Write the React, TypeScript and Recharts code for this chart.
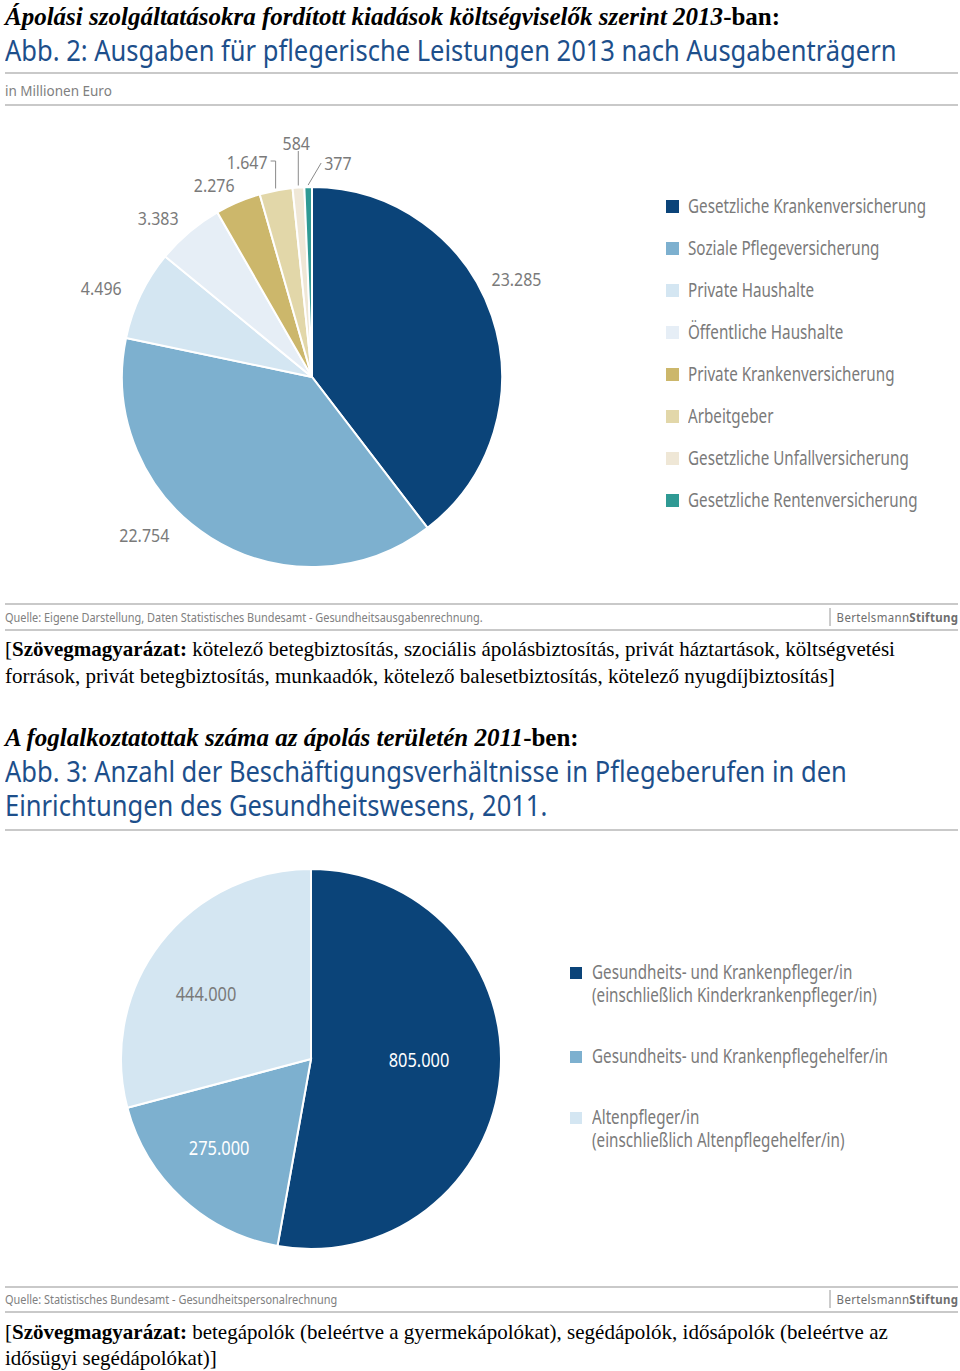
import { PieChart, Pie, Cell, Legend } from "recharts";

document.body.style.margin = "0";

const payers = [
  "Gesetzliche Krankenversicherung",
  "Soziale Pflegeversicherung",
  "Private Haushalte",
  "Öffentliche Haushalte",
  "Private Krankenversicherung",
  "Arbeitgeber",
  "Gesetzliche Unfallversicherung",
  "Gesetzliche Rentenversicherung",
];
const spending = [23285, 22754, 4496, 3383, 2276, 1647, 584, 377];
const payerColors = ["#0b4479", "#7db0cf", "#d4e6f2", "#e6eef6", "#ccb76b", "#e2d7a9", "#efe7d6", "#2f9a94"];

const professions = [
  "Gesundheits- und Krankenpfleger/in\n(einschließlich Kinderkrankenpfleger/in)",
  "Gesundheits- und Krankenpflegehelfer/in",
  "Altenpfleger/in\n(einschließlich Altenpflegehelfer/in)",
];
const employees = [805000, 275000, 444000];
const professionColors = ["#0b4479", "#7db0cf", "#d4e6f2"];
const professionLabelColors = ["#ffffff", "#ffffff", "#7a7a7a"];

const spendingData = payers.map((name, i) => ({ name, value: spending[i], fill: payerColors[i] }));
const employeeData = professions.map((name, i) => ({ name, value: employees[i], fill: professionColors[i] }));

// the original uses a condensed sans; no condensed face is installed, so text is squeezed horizontally
const SANS = '"Noto Sans", Roboto, sans-serif';
const GREY = "#7a7a7a";
const BLUE = "#1d4f8b";
const RAD = Math.PI / 180;

const fmt = (v: number) => String(v).replace(/\B(?=(\d{3})+(?!\d))/g, ".");
const polar = (cx: number, cy: number, r: number, deg: number) => ({
  x: cx + r * Math.cos(-deg * RAD),
  y: cy + r * Math.sin(-deg * RAD),
});

const Sq = ({ k, origin = "0 0", children }: { k: number; origin?: string; children: any }) => (
  <span style={{ display: "inline-block", transform: `scaleX(${k})`, transformOrigin: origin, whiteSpace: "nowrap" }}>
    {children}
  </span>
);

const SvgText = ({ x, y, anchor, size, fill, k, children }: any) => (
  <g transform={`translate(${x},${y}) scale(${k},1)`}>
    <text x={0} y={0} textAnchor={anchor} dominantBaseline="central" style={{ fontFamily: SANS, fontSize: size, fill }}>
      {children}
    </text>
  </g>
);

// label placement for the outside labels: angle nudge (deg) and gap beyond the rim
const labelNudge = [7, -14.6, 2.6, 3.6, 4];
const labelGap = [37, 40, 39, 32, 26];

const SpendLabel = (props: any) => {
  const { cx, cy, midAngle, outerRadius, percent, index, value } = props;
  const t = { size: 19, fill: GREY, k: 0.84 };
  if (percent >= 0.03) {
    const p = polar(cx, cy, outerRadius + (labelGap[index] ?? 34), midAngle + (labelNudge[index] ?? 0));
    return <SvgText x={p.x} y={p.y} anchor="middle" {...t}>{fmt(value)}</SvgText>;
  }
  const e = polar(cx, cy, outerRadius + 2, midAngle);
  const top = cy - outerRadius - 26;
  if (index === spending.length - 1) {
    return (
      <g>
        <path d={`M${e.x},${e.y}L${e.x + 13},${top + 2}`} stroke="#8a8a8a" fill="none" />
        <SvgText x={e.x + 16} y={top + 1} anchor="start" {...t}>{fmt(value)}</SvgText>
      </g>
    );
  }
  if (percent > 0.02) {
    return (
      <g>
        <path d={`M${e.x},${e.y}V${top}H${e.x - 5}`} stroke="#8a8a8a" fill="none" />
        <SvgText x={e.x - 8} y={top} anchor="end" {...t}>{fmt(value)}</SvgText>
      </g>
    );
  }
  return (
    <g>
      <path d={`M${e.x},${e.y}V${top - 10}`} stroke="#8a8a8a" fill="none" />
      <SvgText x={e.x - 2} y={top - 19} anchor="middle" {...t}>{fmt(value)}</SvgText>
    </g>
  );
};

const employeeNudge = [5, -3.7, 5.4];
const employeeRadius = [108, 127, 124];

const EmployeeLabel = (props: any) => {
  const { cx, cy, midAngle, index, value } = props;
  const p = polar(cx, cy, employeeRadius[index], midAngle + employeeNudge[index]);
  return (
    <SvgText x={p.x} y={p.y} anchor="middle" size={20} fill={professionLabelColors[index]} k={0.82}>
      {fmt(value)}
    </SvgText>
  );
};

// legends keep the order of the source arrays (Recharts would sort them)
const SpendLegend = () => (
  <div style={{ fontFamily: SANS, fontSize: 19, color: GREY }}>
    {payers.map((name, i) => (
      <div key={name} style={{ display: "flex", alignItems: "center", height: 42 }}>
        <span style={{ width: 13, height: 13, background: payerColors[i], marginRight: 9, flex: "none" }} />
        <Sq k={0.8}>{name}</Sq>
      </div>
    ))}
  </div>
);

const EmployeeLegend = () => (
  <div style={{ fontFamily: SANS, fontSize: 19, color: GREY, lineHeight: "23px" }}>
    {professions.map((name, i) => (
      <div key={name} style={{ display: "flex", alignItems: "flex-start", marginBottom: 38 }}>
        <span style={{ width: 12, height: 12, background: professionColors[i], marginRight: 10, marginTop: 6, flex: "none" }} />
        <span style={{ display: "inline-block", transform: "scaleX(0.8)", transformOrigin: "0 0", whiteSpace: "pre" }}>
          {name}
        </span>
      </div>
    ))}
  </div>
);

const Rule = ({ top }: { top: number }) => (
  <div style={{ position: "absolute", top, left: 5, width: 953, height: 2, background: "#c9c9c9" }} />
);

const Source = ({ top, text }: { top: number; text: string }) => (
  <div
    style={{
      position: "absolute",
      top,
      left: 5,
      width: 953,
      display: "flex",
      justifyContent: "space-between",
      fontFamily: SANS,
      fontSize: 13,
      lineHeight: "15px",
      color: "#808080",
    }}
  >
    <Sq k={0.84}>{text}</Sq>
    <Sq k={0.88} origin="100% 0">
      <span style={{ borderLeft: "1px solid #8a8a8a", paddingLeft: 7, letterSpacing: 0.4, color: "#6e6e6e" }}>
        Bertelsmann<b>Stiftung</b>
      </span>
    </Sq>
  </div>
);

const abs = (top: number, extra: any = {}) => ({ position: "absolute" as const, top, left: 5, ...extra });

const App = () => {
  return (
    <div style={{ position: "relative", width: 960, height: 1371, background: "#fff", fontFamily: '"Liberation Serif", serif' }}>
      <div style={abs(2, { fontSize: 25, lineHeight: "30px", fontWeight: "bold", whiteSpace: "nowrap" })}>
        <i>Ápolási szolgáltatásokra fordított kiadások költségviselők szerint 2013</i>-ban:
      </div>
      <div style={abs(32, { fontFamily: SANS, fontSize: 29, lineHeight: "36px", color: BLUE })}>
        <Sq k={0.88}>Abb. 2: Ausgaben für pflegerische Leistungen 2013 nach Ausgabenträgern</Sq>
      </div>
      <Rule top={72} />
      <div style={abs(81, { fontFamily: SANS, fontSize: 15, lineHeight: "18px", color: "#808080" })}>
        <Sq k={0.9}>in Millionen Euro</Sq>
      </div>
      <Rule top={104} />

      <div style={{ position: "absolute", top: 105, left: 0 }}>
        <PieChart width={960} height={495}>
          <Pie
            data={spendingData}
            dataKey="value"
            nameKey="name"
            cx={307}
            cy={267}
            outerRadius={190}
            startAngle={90}
            endAngle={-270}
            stroke="#ffffff"
            strokeWidth={2}
            label={SpendLabel}
            labelLine={false}
            isAnimationActive={false}
          >
            {spendingData.map((d) => (
              <Cell key={d.name} fill={d.fill} />
            ))}
          </Pie>
          <Legend content={SpendLegend} wrapperStyle={{ position: "absolute", left: 666, top: 80, width: 290 }} />
        </PieChart>
      </div>

      <Rule top={603} />
      <Source top={610} text="Quelle: Eigene Darstellung, Daten Statistisches Bundesamt - Gesundheitsausgabenrechnung." />
      <Rule top={629} />

      <div style={abs(636, { fontSize: 21, lineHeight: "27px", width: 950 })}>
        [<b>Szövegmagyarázat:</b> kötelező betegbiztosítás, szociális ápolásbiztosítás, privát háztartások, költségvetési
        <br />
        források, privát betegbiztosítás, munkaadók, kötelező balesetbiztosítás, kötelező nyugdíjbiztosítás]
      </div>

      <div style={abs(723, { fontSize: 25, lineHeight: "30px", fontWeight: "bold", whiteSpace: "nowrap" })}>
        <i>A foglalkoztatottak száma az ápolás területén 2011</i>-ben:
      </div>
      <div style={abs(754, { fontFamily: SANS, fontSize: 29, lineHeight: "34px", color: BLUE })}>
        <Sq k={0.88}>
          Abb. 3: Anzahl der Beschäftigungsverhältnisse in Pflegeberufen in den
          <br />
          Einrichtungen des Gesundheitswesens, 2011.
        </Sq>
      </div>
      <Rule top={829} />

      <div style={{ position: "absolute", top: 830, left: 0 }}>
        <PieChart width={960} height={455}>
          <Pie
            data={employeeData}
            dataKey="value"
            nameKey="name"
            cx={306}
            cy={224}
            outerRadius={190}
            startAngle={90}
            endAngle={-270}
            stroke="#ffffff"
            strokeWidth={2}
            label={EmployeeLabel}
            labelLine={false}
            isAnimationActive={false}
          >
            {employeeData.map((d) => (
              <Cell key={d.name} fill={d.fill} />
            ))}
          </Pie>
          <Legend content={EmployeeLegend} wrapperStyle={{ position: "absolute", left: 570, top: 131, width: 380 }} />
        </PieChart>
      </div>

      <Rule top={1286} />
      <Source top={1292} text="Quelle: Statistisches Bundesamt - Gesundheitspersonalrechnung" />
      <Rule top={1311} />

      <div style={abs(1319, { fontSize: 21, lineHeight: "26px", width: 950 })}>
        [<b>Szövegmagyarázat:</b> betegápolók (beleértve a gyermekápolókat), segédápolók, idősápolók (beleértve az
        <br />
        idősügyi segédápolókat)]
      </div>
    </div>
  );
};

export default App;
